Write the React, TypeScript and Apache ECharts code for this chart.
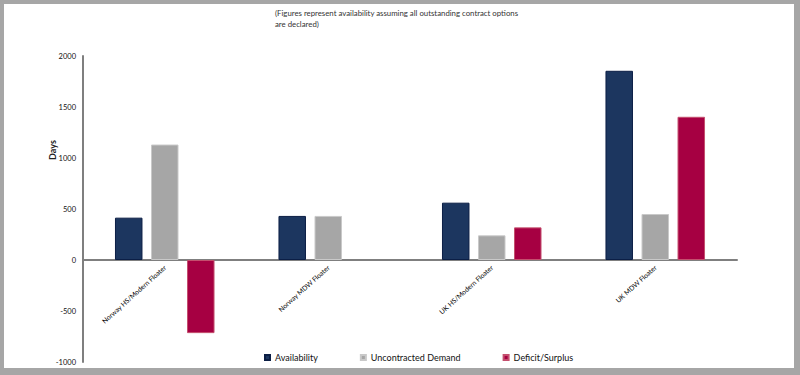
import React, { useEffect, useRef } from "react";
import * as echarts from "echarts";

const categories = [
  "Norway HS/Modern Floater",
  "Norway MDW Floater",
  "UK HS/Modern Floater",
  "UK MDW Floater",
];
const availability = [415, 432, 562, 1855];
const uncontractedDemand = [1132, 432, 242, 451];
const deficitSurplus = [-717, 0, 320, 1404];
const yTicks = { min: -1000, max: 2000, interval: 500 };
const noteText =
  "(Figures represent availability assuming all outstanding contract options\nare declared)";
const yAxisTitle = "Days";

const FONT = "Lato, 'Open Sans', sans-serif";

export default function App() {
  const ref = useRef<HTMLDivElement>(null);

  useEffect(() => {
    if (!ref.current) return;
    const chart = echarts.init(ref.current, undefined, { renderer: "svg" });
    const frame = "#a6a6a6";
    const toData = (arr: number[]) =>
      arr.map((v) => (v === 0 ? { value: v, itemStyle: { borderWidth: 0 } } : v));
    chart.setOption({
      animation: false,
      backgroundColor: "#ffffff",
      textStyle: { fontFamily: FONT },
      grid: {
        left: 83,
        right: 63,
        top: 56,
        bottom: 13,
        containLabel: false,
        outerBoundsMode: "none",
      },
      legend: {
        left: 259,
        top: 348,
        icon: "rect",
        itemWidth: 5,
        itemHeight: 5,
        itemGap: 42,
        textStyle: { fontFamily: FONT, fontSize: 9, color: "#111" },
        data: ["Availability", "Uncontracted Demand", "Deficit/Surplus"],
      },
      xAxis: {
        type: "category",
        data: categories,
        offset: -102,
        axisLine: { onZero: false, lineStyle: { color: "#7f7f7f", width: 2 } },
        axisTick: { show: false },
        axisLabel: {
          rotate: 42,
          fontSize: 6.8,
          color: "#000",
          margin: 6,
          fontFamily: FONT,
        },
      },
      yAxis: {
        type: "value",
        min: yTicks.min,
        max: yTicks.max,
        interval: yTicks.interval,
        splitLine: { show: false },
        axisLine: { show: true, onZero: false, lineStyle: { color: "#7f7f7f", width: 2 } },
        axisTick: { show: false },
        axisLabel: {
          fontSize: 7.5,
          color: "#111",
          margin: 7,
          fontFamily: FONT,
          formatter: (v: number) => String(v),
        },
      },
      series: [
        {
          name: "Availability",
          type: "bar",
          data: toData(availability),
          barWidth: 27.5,
          barGap: "31%",
          itemStyle: { color: "#1c365f", borderColor: "#0b1e45", borderWidth: 1 },
        },
        {
          name: "Uncontracted Demand",
          type: "bar",
          data: toData(uncontractedDemand),
          barWidth: 27.5,
          barGap: "31%",
          itemStyle: { color: "#a6a6a6", borderColor: "#c9c9c9", borderWidth: 1 },
        },
        {
          name: "Deficit/Surplus",
          type: "bar",
          data: toData(deficitSurplus),
          barWidth: 27.5,
          barGap: "31%",
          itemStyle: { color: "#a60042", borderColor: "#c4506e", borderWidth: 1 },
        },
      ],
      graphic: [
        {
          type: "text",
          left: 275,
          top: 8,
          style: {
            text: noteText,
            fontSize: 7.8,
            lineHeight: 10.5,
            fill: "#333",
            fontFamily: FONT,
          },
        },
        {
          type: "text",
          x: 52,
          y: 150,
          rotation: Math.PI / 2,
          style: {
            text: yAxisTitle,
            fontSize: 9,
            fontWeight: "bold",
            fill: "#222",
            align: "center",
            verticalAlign: "middle",
            fontFamily: FONT,
          },
        },
        { type: "rect", shape: { x: 0, y: 0, width: 800, height: 4 }, style: { fill: frame } },
        { type: "rect", shape: { x: 0, y: 0, width: 4, height: 375 }, style: { fill: frame } },
        { type: "rect", shape: { x: 794, y: 0, width: 6, height: 375 }, style: { fill: frame } },
        { type: "rect", shape: { x: 0, y: 368, width: 800, height: 7 }, style: { fill: frame } },
      ],
    });
    return () => chart.dispose();
  }, []);

  return (
    <div
      ref={ref}
      style={{ position: "absolute", left: 0, top: 0, width: 800, height: 375 }}
    />
  );
}
